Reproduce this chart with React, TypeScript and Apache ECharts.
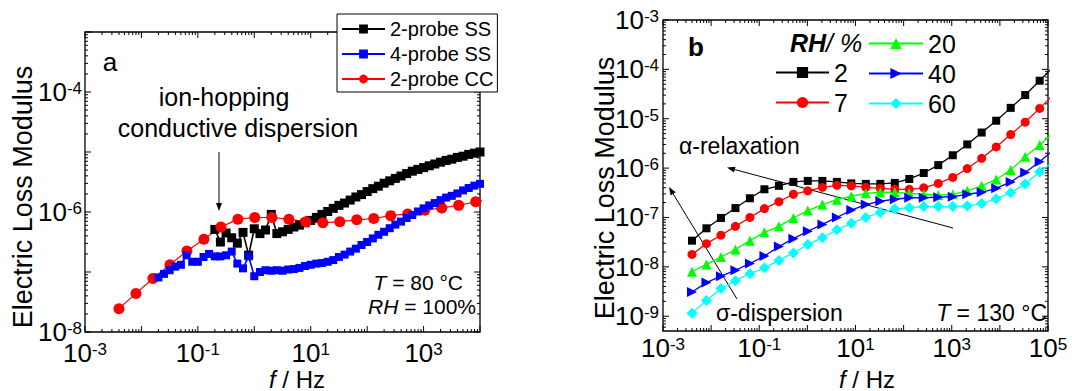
import React, { useEffect, useRef } from "react";
import * as echarts from "echarts";

const FONT = '"Liberation Sans", Arial, Helvetica, sans-serif';

// ---------- Panel a data ----------
// shared frequency grid of the two-probe / four-probe SS runs (Hz)
const freqDense = [
  0.02, 0.0251, 0.0316, 0.0398, 0.0501, 0.0631, 0.0794, 0.1, 0.126, 0.158,
  0.2, 0.251, 0.316, 0.398, 0.501, 0.631, 0.794, 1, 1.26, 1.58,
  2, 2.51, 3.16, 3.98, 5.01, 6.31, 7.94, 10, 12.6, 15.8,
  20, 25.1, 31.6, 39.8, 50.1, 63.1, 79.4, 100, 126, 158,
  200, 251, 316, 398, 501, 631, 794, 1000, 1260, 1580,
  2000, 2510, 3160, 3980, 5010, 6310, 7940, 10000,
];
const probe2SS = [
  null, null, null, null, null, null, null, null, null, null,
  5.13e-7, 3.16e-7, 4.47e-7, 3.72e-7, 3.02e-7, 4.57e-7, 1.91e-7, 5.25e-7, 4.37e-7, 5.01e-7,
  9.12e-7, 4.37e-7, 4.68e-7, 5.13e-7, 5.62e-7, 6.03e-7, 6.61e-7, 7.24e-7, 8.13e-7, 9.12e-7,
  1.02e-6, 1.15e-6, 1.29e-6, 1.41e-6, 1.58e-6, 1.78e-6, 1.95e-6, 2.19e-6, 2.45e-6, 2.69e-6,
  3.02e-6, 3.31e-6, 3.63e-6, 3.98e-6, 4.37e-6, 4.79e-6, 5.13e-6, 5.5e-6, 5.89e-6, 6.31e-6,
  6.76e-6, 7.24e-6, 7.59e-6, 8.13e-6, 8.51e-6, 9.12e-6, 9.55e-6, 1.0e-5,
];
const probe4SS = [
  8.1e-8, 9.3e-8, 1.07e-7, 1.23e-7, 1.32e-7, 1.9e-7, 1.48e-7, 1.48e-7, 1.78e-7, 2.0e-7,
  1.82e-7, 1.82e-7, 1.9e-7, 2.19e-7, 1.38e-7, 1.15e-7, 1.82e-7, 8.5e-8, 1.0e-7, 1.07e-7,
  1.05e-7, 1.07e-7, 1.05e-7, 1.1e-7, 1.12e-7, 1.17e-7, 1.26e-7, 1.32e-7, 1.38e-7, 1.41e-7,
  1.48e-7, 1.58e-7, 1.78e-7, 1.95e-7, 2.19e-7, 2.45e-7, 2.82e-7, 3.16e-7, 3.63e-7, 4.17e-7,
  4.68e-7, 5.37e-7, 6.17e-7, 6.92e-7, 7.94e-7, 8.91e-7, 1.02e-6, 1.15e-6, 1.29e-6, 1.41e-6,
  1.58e-6, 1.74e-6, 1.86e-6, 2.04e-6, 2.29e-6, 2.51e-6, 2.75e-6, 2.95e-6,
];
const probe2CC = [
  2.45e-8, 4.4e-8, 7.8e-8, 1.32e-7, 2.24e-7, 3.5e-7, 5.6e-7, 7.6e-7, 8.1e-7, 8.1e-7,
  7.6e-7, 6.9e-7, 6.6e-7, 6.9e-7, 7.4e-7, 7.8e-7, 8.7e-7, 9.3e-7, 1.07e-6, 1.17e-6,
  1.29e-6, 1.48e-6, 1.66e-6,
];

// ---------- Panel b data ----------
const freqB = [
  0.004, 0.008, 0.016, 0.032, 0.064, 0.128, 0.256, 0.512, 1.02, 2.05,
  4.1, 8.19, 16.4, 32.8, 65.5, 131, 262, 524, 1050, 2100,
  4190, 8390, 16800, 33600, 67100, 134000,
];
const rh2 = [
  3.39e-8, 6.03e-8, 9.77e-8, 1.55e-7, 2.45e-7, 3.72e-7, 4.37e-7, 5.25e-7, 5.5e-7, 5.5e-7,
  5.25e-7, 4.9e-7, 4.79e-7, 4.79e-7, 5.01e-7, 6.03e-7, 7.94e-7, 1.15e-6, 1.82e-6, 3.02e-6,
  5.25e-6, 9.12e-6, 1.66e-5, 3.02e-5, 5.89e-5, 1.17e-4,
];
const rh7 = [
  1.78e-8, 2.95e-8, 4.37e-8, 6.61e-8, 1.0e-7, 1.51e-7, 2.09e-7, 2.95e-7, 3.47e-7, 4.07e-7,
  4.47e-7, 4.37e-7, 4.07e-7, 3.89e-7, 3.72e-7, 3.72e-7, 3.98e-7, 4.9e-7, 6.46e-7, 9.77e-7,
  1.58e-6, 2.69e-6, 4.79e-6, 8.51e-6, 1.62e-5, 3.16e-5,
];
const rh20 = [
  7.94e-9, 1.12e-8, 1.58e-8, 2.24e-8, 3.39e-8, 5.01e-8, 6.61e-8, 9.77e-8, 1.38e-7, 1.82e-7,
  2.29e-7, 2.69e-7, 3.09e-7, 3.24e-7, 3.24e-7, 3.09e-7, 2.95e-7, 2.82e-7, 2.95e-7, 3.47e-7,
  4.37e-7, 5.89e-7, 9.12e-7, 1.7e-6, 2.95e-6, 5.37e-6,
];
const rh40 = [
  3.09e-9, 4.79e-9, 6.46e-9, 8.51e-9, 1.17e-8, 1.66e-8, 2.57e-8, 3.72e-8, 5.25e-8, 7.24e-8,
  1.0e-7, 1.41e-7, 1.82e-7, 2.14e-7, 2.34e-7, 2.51e-7, 2.51e-7, 2.57e-7, 2.63e-7, 2.95e-7,
  3.24e-7, 3.89e-7, 5.25e-7, 8.13e-7, 1.35e-6, 2.4e-6,
];
const rh60 = [
  1.15e-9, 2.09e-9, 3.63e-9, 5.25e-9, 7.24e-9, 9.55e-9, 1.35e-8, 1.91e-8, 2.82e-8, 3.89e-8,
  5.62e-8, 7.59e-8, 1.0e-7, 1.26e-7, 1.48e-7, 1.58e-7, 1.66e-7, 1.66e-7, 1.66e-7, 1.7e-7,
  1.91e-7, 2.4e-7, 3.16e-7, 4.79e-7, 8.32e-7, 1.38e-6,
];

// axis extents (decades)
const xRangeA = [-3, 4];
const yRangeA = [-8, -3];
const xRangeB = [-3, 5];
const yRangeB = [-9.3, -3];

const pts = (fx: number[], vy: (number | null)[]) => {
  const out: number[][] = [];
  vy.forEach((v, i) => {
    if (v != null && fx[i] != null) out.push([Math.log10(fx[i]), Math.log10(v)]);
  });
  return out;
};

const richLbl = {
  b: { fontSize: 26, fontFamily: FONT, color: "#000", lineHeight: 24 },
  s: { fontSize: 17, fontFamily: FONT, color: "#000", lineHeight: 13, verticalAlign: "top" },
};
const powLabel = (show: (n: number) => boolean) => (v: number) => {
  const n = Math.round(v);
  if (Math.abs(v - n) > 1e-6 || !show(n)) return "";
  return `{b|10}{s|${n}}`;
};

function tickData(xr: number[], yr: number[]) {
  const d: number[][] = [];
  for (let n = Math.floor(xr[0]); n <= xr[1]; n++) {
    for (let k = 1; k <= 9; k++) {
      const v = n + Math.log10(k);
      if (v < xr[0] - 1e-9 || v > xr[1] + 1e-9) continue;
      d.push([v, yr[0], 0, k === 1 ? 1 : 0]);
    }
  }
  for (let n = Math.floor(yr[0]); n <= yr[1]; n++) {
    for (let k = 1; k <= 9; k++) {
      const v = n + Math.log10(k);
      if (v < yr[0] - 1e-9 || v > yr[1] + 1e-9) continue;
      d.push([xr[0], v, 1, k === 1 ? 1 : 0]);
    }
  }
  return d;
}

function tickSeries(idx: number, xr: number[], yr: number[]) {
  return {
    type: "custom",
    xAxisIndex: idx,
    yAxisIndex: idx,
    silent: true,
    z: 3,
    clip: false,
    encode: { x: 0, y: 1 },
    data: tickData(xr, yr),
    renderItem: (_p: any, api: any) => {
      const v0 = api.value(0), v1 = api.value(1), kind = api.value(2), major = api.value(3);
      const L = major ? 6 : 3;
      const st = { stroke: "#000", lineWidth: 1 };
      if (kind === 0) {
        const b = api.coord([v0, yr[0]]);
        const t = api.coord([v0, yr[1]]);
        return {
          type: "group",
          children: [
            { type: "line", shape: { x1: b[0], y1: b[1], x2: b[0], y2: b[1] - L }, style: st },
            { type: "line", shape: { x1: t[0], y1: t[1], x2: t[0], y2: t[1] + L }, style: st },
          ],
        };
      }
      const l = api.coord([xr[0], v1]);
      const r = api.coord([xr[1], v1]);
      return {
        type: "group",
        children: [
          { type: "line", shape: { x1: l[0], y1: l[1], x2: l[0] + L, y2: l[1] }, style: st },
          { type: "line", shape: { x1: r[0], y1: r[1], x2: r[0] - L, y2: r[1] }, style: st },
        ],
      };
    },
  };
}

function arrow(x1: number, y1: number, x2: number, y2: number, head = 8, half = 3) {
  const len = Math.hypot(x2 - x1, y2 - y1);
  const ux = (x2 - x1) / len, uy = (y2 - y1) / len;
  const bx = x2 - ux * head, by = y2 - uy * head;
  const px = -uy, py = ux;
  return [
    { type: "line", shape: { x1, y1, x2: bx, y2: by }, style: { stroke: "#000", lineWidth: 1 } },
    {
      type: "polygon",
      shape: { points: [[x2, y2], [bx + px * half, by + py * half], [bx - px * half, by - py * half]] },
      style: { fill: "#000" },
    },
  ];
}

const txt = (x: number, y: number, text: string, fontSize: number, extra: any = {}) => ({
  type: "text",
  x,
  y,
  style: {
    text,
    fontSize,
    fontFamily: FONT,
    fill: "#000",
    align: "center",
    verticalAlign: "middle",
    ...extra,
  },
});

const lineSeries = (
  name: string, idx: number, data: number[][], color: string, symbol: string,
  size: number, width: number, rotate = 0,
) => ({
  type: "line",
  name,
  xAxisIndex: idx,
  yAxisIndex: idx,
  data,
  symbol,
  symbolSize: size,
  symbolRotate: rotate,
  showAllSymbol: true,
  lineStyle: { color, width },
  itemStyle: { color, borderWidth: 0 },
  emphasis: { disabled: true },
});

const axisCommon = {
  type: "value",
  axisLine: { show: false },
  axisTick: { show: false },
  splitLine: { show: false },
};

const fHz = (x: number) =>
  txt(x, 379, "{i|f}{n| / Hz}", 24, {
    rich: {
      i: { fontSize: 24, lineHeight: 22, fontStyle: "italic", fontFamily: FONT },
      n: { fontSize: 24, lineHeight: 22, fontFamily: FONT },
    },
  });

export default function App() {
  const ref = useRef<HTMLDivElement>(null);
  useEffect(() => {
    if (!ref.current) return;
    const chart = echarts.init(ref.current, null, { renderer: "svg" });
    const option: any = {
      animation: false,
      backgroundColor: "#fff",
      textStyle: { fontFamily: FONT },
      grid: [
        { left: 85, top: 32, width: 395, height: 300, show: true, borderColor: "#000", borderWidth: 1.3, backgroundColor: "transparent" },
        { left: 663, top: 20, width: 385, height: 311, show: true, borderColor: "#000", borderWidth: 1.3, backgroundColor: "transparent" },
      ],
      xAxis: [
        {
          ...axisCommon, gridIndex: 0, min: xRangeA[0], max: xRangeA[1], interval: 1,
          axisLabel: { margin: 9, formatter: powLabel((n) => (n + 3) % 2 === 0), rich: richLbl },
        },
        {
          ...axisCommon, gridIndex: 1, min: xRangeB[0], max: xRangeB[1], interval: 1,
          axisLabel: { margin: 5, formatter: powLabel((n) => (n + 3) % 2 === 0), rich: richLbl },
        },
      ],
      yAxis: [
        {
          ...axisCommon, gridIndex: 0, min: yRangeA[0], max: yRangeA[1], interval: 1,
          axisLabel: { margin: 3, formatter: powLabel((n) => n % 2 === 0), rich: richLbl },
        },
        {
          ...axisCommon, gridIndex: 1, min: yRangeB[0], max: yRangeB[1], interval: 0.1,
          axisLabel: { margin: 4, interval: 0, formatter: powLabel(() => true), rich: richLbl },
        },
      ],
      legend: [
        {
          orient: "vertical", left: 337, top: 14, z: 20,
          data: ["2-probe SS", "4-probe SS", "2-probe CC"],
          backgroundColor: "#fff", borderColor: "#000", borderWidth: 1,
          padding: [5, 4, 3, 4], itemGap: 5, itemWidth: 43, itemHeight: 11,
          textStyle: { fontSize: 20, fontFamily: FONT, color: "#000", lineHeight: 20 },
          selectedMode: false,
        },
        {
          orient: "vertical", left: 775, top: 60, data: ["2", "7"], z: 20,
          padding: 0, itemGap: 5, itemWidth: 53, itemHeight: 14,
          textStyle: { fontSize: 25, fontFamily: FONT, color: "#000", lineHeight: 24 },
          selectedMode: false,
        },
        {
          orient: "vertical", left: 868, top: 31, data: ["20", "40", "60"], z: 20,
          padding: 0, itemGap: 5, itemWidth: 54, itemHeight: 14,
          textStyle: { fontSize: 25, fontFamily: FONT, color: "#000", lineHeight: 24 },
          selectedMode: false,
        },
      ],
      series: [
        lineSeries("2-probe SS", 0, pts(freqDense, probe2SS), "#000000", "rect", 9, 1.6),
        lineSeries("2-probe CC", 0, pts(freqB, probe2CC), "#ff0000", "circle", 11, 1.2),
        lineSeries("4-probe SS", 0, pts(freqDense, probe4SS), "#0000ff", "rect", 8, 1.6),
        tickSeries(0, xRangeA, yRangeA),
        lineSeries("2", 1, pts(freqB, rh2), "#000000", "rect", 8, 1.3),
        lineSeries("7", 1, pts(freqB, rh7), "#ff0000", "circle", 9, 1.3),
        lineSeries("20", 1, pts(freqB, rh20), "#00ff00", "triangle", 10, 1.3),
        lineSeries("40", 1, pts(freqB, rh40), "#0000ff", "triangle", 10, 1.3, -90),
        lineSeries("60", 1, pts(freqB, rh60), "#00ffff", "diamond", 11, 1.3),
        tickSeries(1, xRangeB, yRangeB),
      ],
      graphic: [
        // axis titles
        { ...txt(23, 197, "Electric Loss Modulus", 27), rotation: Math.PI / 2 },
        { ...txt(605, 188, "Electric Loss Modulus", 27), rotation: Math.PI / 2 },
        fHz(297),
        fHz(867),
        // panel labels
        txt(110, 62, "a", 26),
        txt(696, 47, "b", 26, { fontWeight: "bold" }),
        // panel a annotations
        txt(224, 97, "ion-hopping", 25),
        txt(238, 128, "conductive dispersion", 25),
        ...arrow(219, 152, 219, 211),
        txt(463, 282, "{i|T}{n| = 80 °C}", 21, {
          align: "right",
          rich: { i: { fontSize: 21, fontStyle: "italic", fontFamily: FONT }, n: { fontSize: 21, fontFamily: FONT } },
        }),
        txt(476, 306, "{i|RH}{n| = 100%}", 21, {
          align: "right",
          rich: { i: { fontSize: 21, fontStyle: "italic", fontFamily: FONT }, n: { fontSize: 21, fontFamily: FONT } },
        }),
        // panel b annotations
        txt(679, 146, "α-relaxation", 23, { align: "left" }),
        txt(716, 313, "σ-dispersion", 23, { align: "left" }),
        txt(1047, 313, "{i|T}{n| = 130 °C}", 23, {
          align: "right",
          rich: { i: { fontSize: 23, fontStyle: "italic", fontFamily: FONT }, n: { fontSize: 23, fontFamily: FONT } },
        }),
        ...arrow(953, 228, 727, 167.5),
        ...arrow(737, 299, 669, 187),
        txt(790, 43, "{b|RH}{n|/ %}", 25, {
          align: "left",
          rich: {
            b: { fontSize: 25, fontStyle: "italic", fontWeight: "bold", fontFamily: FONT },
            n: { fontSize: 25, fontStyle: "italic", fontFamily: FONT },
          },
        }),
      ],
    };
    chart.setOption(option);
    return () => chart.dispose();
  }, []);
  return (
    <div
      ref={ref}
      style={{ position: "absolute", left: 0, top: 0, width: 1072, height: 391 }}
    />
  );
}
